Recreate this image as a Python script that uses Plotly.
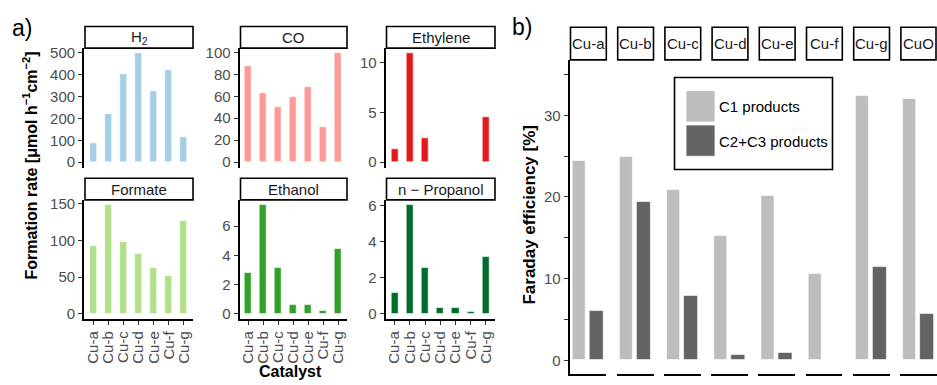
import plotly.graph_objects as go

# ---------------- data ----------------
catalysts = ["Cu-a", "Cu-b", "Cu-c", "Cu-d", "Cu-e", "Cu-f", "Cu-g"]
h2_rate = [86, 220, 402, 497, 325, 423, 116]
co_rate = [88, 63, 50, 59, 68, 31.6, 99]
ethylene_rate = [1.28, 10.9, 2.44, 0, 0, 0, 4.5]
formate_rate = [93, 147.7, 97.6, 81, 62.7, 52, 126.7]
ethanol_rate = [2.83, 7.42, 3.13, 0.65, 0.61, 0.2, 4.41]
propanol_rate = [1.18, 6.0, 2.53, 0.31, 0.33, 0.09, 3.15]

product_names = ["H<sub>2</sub>", "CO", "Ethylene", "Formate", "Ethanol", "n − Propanol"]
product_colors = ["#a6cee3", "#fb9a99", "#e31a1c", "#b2df8a", "#33a02c", "#006d2c"]
product_dticks = [100, 20, 5, 50, 2, 2]

fe_catalysts = ["Cu-a", "Cu-b", "Cu-c", "Cu-d", "Cu-e", "Cu-f", "Cu-g", "CuO"]
fe_groups = ["C1 products", "C2+C3 products"]
fe_c1 = [24.4, 24.9, 20.9, 15.2, 20.1, 10.6, 32.4, 32.0]
fe_c2c3 = [6.1, 19.4, 7.9, 0.65, 0.9, 0.1, 11.5, 5.75]
fe_colors = ["#bdbdbd", "#636363"]

# ---------------- layout helpers ----------------
W, H = 937, 385
FONT = "Liberation Sans, Arial, sans-serif"
TICKC = "#4d4d4d"


def dx(x0, x1):
    return [max(0, x0 / W), min(1, x1 / W)]


def dy(y0, y1):
    return [max(0, 1 - y1 / H), min(1, 1 - y0 / H)]


fig = go.Figure()
layout = dict(
    width=W, height=H, margin=dict(l=0, r=0, t=0, b=0), autosize=False,
    paper_bgcolor="white", plot_bgcolor="white", showlegend=False,
    font=dict(family=FONT, color="black"), bargap=0,
)
shapes = []
annotations = []


def strip(x0, x1, y0, y1, text, size):
    shapes.append(dict(type="rect", xref="paper", yref="paper",
                       x0=x0 / W, x1=min(x1, W - 1) / W,
                       y0=1 - y1 / H, y1=1 - y0 / H,
                       line=dict(color="black", width=1.6), fillcolor="white"))
    annotations.append(dict(xref="paper", yref="paper", x=(x0 + min(x1, W - 1)) / 2 / W,
                            y=1 - (y0 + y1) / 2 / H, text=text, showarrow=False,
                            font=dict(size=size, color="#1a1a1a", family=FONT),
                            xanchor="center", yanchor="middle"))


# ---------------- panel a ----------------
a_cols = [(84, 193), (239.5, 347), (385.5, 495)]
a_rows = [((22, 44), (44, 166)), ((177, 199), (199, 321))]
a_series = [h2_rate, co_rate, ethylene_rate, formate_rate, ethanol_rate, propanol_rate]

for k, vals in enumerate(a_series):
    r, c = divmod(k, 3)
    n = k + 1
    xs = "" if n == 1 else str(n)
    (sy0, sy1), (py0, py1) = a_rows[r]
    cx0, cx1 = a_cols[c]
    fig.add_trace(go.Bar(x=catalysts, y=vals, xaxis="x" + xs, yaxis="y" + xs,
                         width=0.47, marker=dict(color=product_colors[k],
                                                 line=dict(color="white", width=0.6))))
    vmax = max(vals)
    bottom = r == 1
    layout["xaxis" + xs] = dict(
        domain=dx(cx0, cx1), anchor="y" + xs, type="category",
        range=[-0.6, 6.6], showgrid=False, zeroline=False,
        tickmode="array", tickvals=catalysts, ticktext=catalysts,
        showline=bottom, linecolor="black", linewidth=1.8,
        ticks="outside" if bottom else "", ticklen=4, tickcolor="#333333",
        showticklabels=bottom, tickangle=-90,
        tickfont=dict(size=15, color=TICKC, family=FONT),
    )
    layout["yaxis" + xs] = dict(
        domain=dy(py0, py1), anchor="x" + xs,
        range=[-0.05 * vmax, 1.05 * vmax], dtick=product_dticks[k], tick0=0,
        showgrid=False, zeroline=False, showline=True, linecolor="black",
        linewidth=1.8, ticks="outside", ticklen=4, tickcolor="#333333",
        tickfont=dict(size=15, color=TICKC, family=FONT),
    )
    strip(cx0 + 1, cx1, sy0, sy1, product_names[k], 15)

# axis titles panel a
annotations.append(dict(xref="paper", yref="paper", x=30 / W, y=1 - 164 / H,
                        text="<b>Formation rate [μmol h<sup>−1</sup>cm<sup>−2</sup>]</b>",
                        textangle=-90, showarrow=False, font=dict(size=16, family=FONT),
                        xanchor="center", yanchor="middle"))
annotations.append(dict(xref="paper", yref="paper", x=290 / W, y=1 - 374 / H,
                        text="<b>Catalyst</b>", showarrow=False,
                        font=dict(size=16, family=FONT), xanchor="center", yanchor="middle"))
annotations.append(dict(xref="paper", yref="paper", x=10 / W, y=1 - 23 / H,
                        text="a)", showarrow=False, font=dict(size=23, family=FONT),
                        xanchor="left", yanchor="middle"))

# ---------------- panel b ----------------
b_start, b_step, b_w = 569.5, 47.2, 36.8
b_plot_y = (56, 377)
b_strip_y = (22.7, 56)
fe_max = 36.8
fe_min = -1.7

for i, cat in enumerate(fe_catalysts):
    n = 7 + i
    xs = str(n)
    x0 = b_start + i * b_step
    x1 = x0 + b_w
    for g, (grp, series) in enumerate(zip(fe_groups, [fe_c1, fe_c2c3])):
        fig.add_trace(go.Bar(x=[grp], y=[series[i]], xaxis="x" + xs, yaxis="y" + xs,
                             width=0.78, marker=dict(color=fe_colors[g],
                                                     line=dict(color="white", width=0.6)),
                             name=grp))
    layout["xaxis" + xs] = dict(
        domain=dx(x0, x1), anchor="y" + xs, type="category",
        categoryorder="array", categoryarray=fe_groups,
        range=[-0.55, 1.55], showgrid=False, zeroline=False,
        showline=True, linecolor="black", linewidth=2.2,
        ticks="", showticklabels=False,
    )
    first = i == 0
    layout["yaxis" + xs] = dict(
        domain=dy(*b_plot_y), anchor="x" + xs, range=[fe_min, fe_max],
        showgrid=False, zeroline=False, showline=first, linecolor="black",
        linewidth=1.8, ticks="outside" if first else "", ticklen=4,
        tickcolor="#333333", showticklabels=first, tick0=0, dtick=10,
        minor=dict(ticks="outside" if first else "", dtick=5, ticklen=4,
                   tickcolor="#333333", showgrid=False),
        tickfont=dict(size=15, color=TICKC, family=FONT),
    )
    strip(x0 + 1, x1, b_strip_y[0], b_strip_y[1], cat, 15)

annotations.append(dict(xref="paper", yref="paper", x=530 / W, y=1 - 214 / H,
                        text="<b>Faraday efficiency [%]</b>", textangle=-90,
                        showarrow=False, font=dict(size=17, family=FONT),
                        xanchor="center", yanchor="middle"))
annotations.append(dict(xref="paper", yref="paper", x=510 / W, y=1 - 22 / H,
                        text="b)", showarrow=False, font=dict(size=23, family=FONT),
                        xanchor="left", yanchor="middle"))

# legend (drawn)
shapes.append(dict(type="rect", xref="paper", yref="paper", x0=674.5 / W, x1=832.5 / W,
                   y0=1 - 168 / H, y1=1 - 74 / H, line=dict(color="black", width=1.6),
                   fillcolor="white"))
for g, grp in enumerate(fe_groups):
    ky0 = 87.5 + g * 35
    shapes.append(dict(type="rect", xref="paper", yref="paper", x0=686 / W, x1=715 / W,
                       y0=1 - (ky0 + 32) / H, y1=1 - ky0 / H,
                       line=dict(color="white", width=0.8), fillcolor=fe_colors[g]))
    annotations.append(dict(xref="paper", yref="paper", x=717 / W,
                            y=1 - (ky0 + 16.5) / H, text=grp, showarrow=False,
                            font=dict(size=15, color="black", family=FONT),
                            xanchor="left", yanchor="middle"))

layout["shapes"] = shapes
layout["annotations"] = annotations
fig.update_layout(**layout)
fig.write_html("out.html", config=dict(displayModeBar=False),
               post_script="document.body.style.margin='0px';"
                           "document.body.style.overflow='hidden';")
